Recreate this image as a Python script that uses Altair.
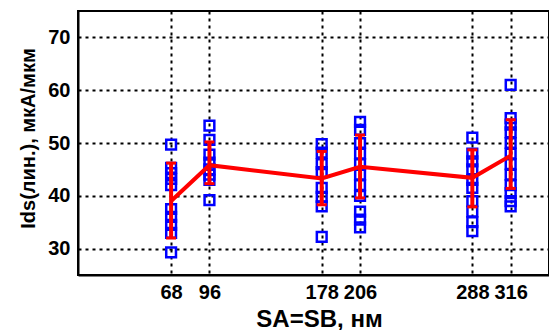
import altair as alt
import pandas as pd

# x positions (SA=SB, nm)
x_values = [68, 96, 178, 206, 288, 316]

# individual measurements per x position
pts_68 = [49.7, 45.3, 44.3, 43.2, 42.0, 37.5, 36.0, 34.5, 33.0, 29.3]
pts_96 = [53.3, 50.6, 47.8, 46.3, 45.0, 44.0, 43.0, 39.2]
pts_178 = [49.8, 48.2, 46.0, 44.5, 41.5, 39.8, 38.0, 32.2]
pts_206 = [54.0, 52.5, 50.0, 48.0, 46.0, 44.0, 42.0, 40.0, 37.0, 35.5, 34.0]
pts_288 = [51.0, 48.0, 46.5, 45.0, 43.0, 41.5, 39.0, 37.0, 35.0, 33.3]
pts_316 = [61.0, 54.7, 53.5, 52.0, 50.0, 48.0, 46.0, 44.0, 42.0, 40.5, 39.0, 38.0]

# mean and error bar limits
means = [39.0, 45.8, 43.3, 45.5, 43.4, 47.6]
err_low = [32.0, 42.3, 38.3, 39.6, 37.9, 41.4]
err_high = [46.2, 50.2, 48.4, 51.5, 48.7, 54.4]

y_ticks = [30, 40, 50, 60, 70]

groups = [pts_68, pts_96, pts_178, pts_206, pts_288, pts_316]
pts_df = pd.DataFrame(
    [{"x": xv, "y": yv} for xv, g in zip(x_values, groups) for yv in g]
)
stat_df = pd.DataFrame({"x": x_values, "mean": means, "lo": err_low, "hi": err_high})

FONT = "Liberation Sans"

x_enc = alt.X(
    "x:Q",
    scale=alt.Scale(domain=[0, 344], nice=False, zero=False),
    axis=alt.Axis(
        values=x_values,
        title="SA=SB, нм",
        titleFont=FONT,
        titleFontSize=24,
        titleFontWeight="bold",
        titleColor="black",
        titlePadding=5,
        titleX=241,
        labelFont=FONT,
        labelFontSize=20,
        labelFontWeight="bold",
        labelColor="black",
        labelPadding=7,
        ticks=False,
        domainColor="black",
        domainWidth=2,
        grid=True,
        gridColor="black",
        gridDash=[3, 4],
        gridWidth=2,
        gridOpacity=1,
        labelFlush=False,
    ),
)
y_scale = alt.Scale(domain=[25, 75], nice=False, zero=False)
y_axis = alt.Axis(
    values=y_ticks,
    title="Ids(лин.), мкА/мкм",
    titleFont=FONT,
    titleFontSize=20,
    titleFontWeight="bold",
    titleColor="black",
    titlePadding=9,
    titleY=127,
    labelFont=FONT,
    labelFontSize=20,
    labelFontWeight="bold",
    labelColor="black",
    labelPadding=8,
    ticks=False,
    domainColor="black",
    domainWidth=2,
    grid=True,
    gridColor="black",
    gridDash=[3, 4],
    gridWidth=2,
    gridOpacity=1,
    labelFlush=False,
)

points = alt.Chart(pts_df).mark_point(
    shape="square", filled=False, color="#0000ff", size=95, strokeWidth=2.5, opacity=1
).encode(x=x_enc, y=alt.Y("y:Q", scale=y_scale, axis=y_axis))

line = alt.Chart(stat_df).mark_line(color="#ff0000", strokeWidth=4).encode(
    x=alt.X("x:Q"), y=alt.Y("mean:Q")
)

bars = alt.Chart(stat_df).mark_rule(color="#ff0000", strokeWidth=4).encode(
    x=alt.X("x:Q"), y=alt.Y("lo:Q"), y2="hi:Q"
)

cap_lo = alt.Chart(stat_df).mark_tick(
    color="#ff0000", orient="horizontal", size=10, thickness=3, opacity=1
).encode(x=alt.X("x:Q"), y=alt.Y("lo:Q"))

cap_hi = alt.Chart(stat_df).mark_tick(
    color="#ff0000", orient="horizontal", size=10, thickness=3, opacity=1
).encode(x=alt.X("x:Q"), y=alt.Y("hi:Q"))

chart = (
    alt.layer(points, line, bars, cap_lo, cap_hi)
    .properties(
        width=471,
        height=264,
        autosize=alt.AutoSizeParams(type="none"),
        padding={"left": 78, "top": 11, "right": 0, "bottom": 55},
        background="white",
    )
    .configure_view(stroke="black", strokeWidth=2)
)

chart.save("out.html", embed_options={"renderer": "svg", "actions": False})
